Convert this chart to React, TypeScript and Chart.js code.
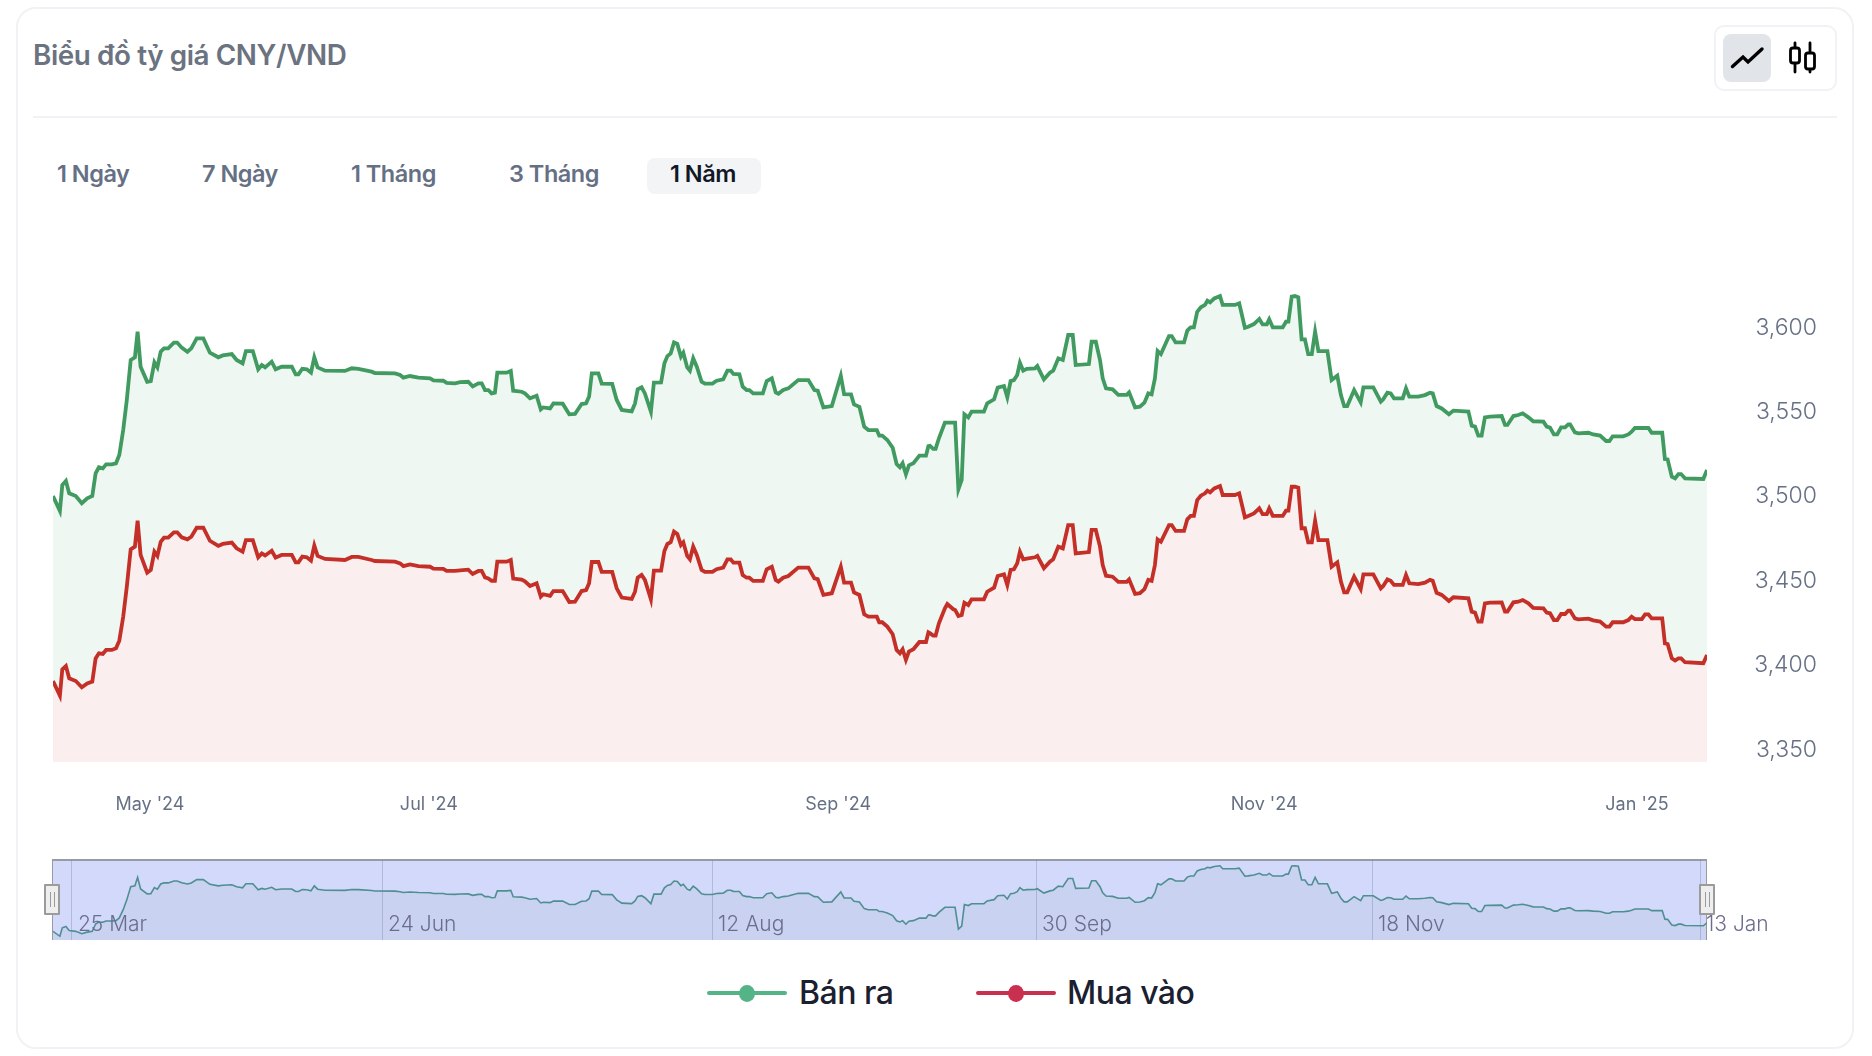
import React, { useEffect, useRef } from "react";
import { Chart, registerables } from "chart.js";

Chart.register(...registerables);

const FONT = "Inter, 'Noto Sans', sans-serif";

const sessions = [
  0, 2.3, 3.1, 4.3, 5.4, 7.6, 9.6, 11.4, 13.1, 14.2,
  15.3, 16.6, 17.7, 19.6, 21, 22.1, 23.4, 24.6, 25.9, 27.3,
  28.2, 29.2, 31.4, 32.6, 33.8, 34.8, 35.9, 37, 38.4, 40.3,
  41.4, 42.9, 44.8, 46.1, 47.9, 50.1, 52.3, 55.1, 56.6, 59.6,
  61.2, 63.2, 64.3, 66.6, 68.4, 69.6, 70.7, 72.9, 74.2, 76.2,
  79.6, 80.9, 81.8, 83.1, 84.6, 86, 87.1, 88.2, 90.7, 97.3,
  99.6, 101.8, 106.2, 107.3, 114, 115.7, 116.8, 119, 121.8, 125.7,
  126.8, 130.1, 131.2, 134, 135.7, 138.4, 139.9, 141.8, 142.9, 144,
  145.1, 146.2, 147.3, 148.1, 151.2, 152.6, 153.4, 156.2, 157.3, 159,
  161.2, 162.6, 163.4, 165.7, 166.8, 169.9, 172.1, 174, 176.2, 177.7,
  178.7, 179.6, 181.8, 182.9, 186.4, 187.9, 189.6, 192.9, 194, 194.9,
  196.2, 197.3, 199.3, 200.3, 202.7, 203.8, 204.8, 205.9, 207, 208.1,
  209.3, 210.1, 211.4, 212.3, 213.4, 214.6, 216.2, 217.3, 219.8, 221.2,
  223.4, 224.8, 225.9, 226.8, 228.8, 229.9, 231.2, 232.1, 233.4, 236.6,
  237.9, 239.6, 240.9, 241.8, 243.4, 245.1, 248.4, 251.8, 253.8, 254.9,
  256.8, 259.6, 262.6, 263.7, 266, 267, 268.8, 270.4, 271.8, 274.6,
  275.4, 276.4, 278.1, 279.9, 281.2, 282.3, 283.2, 284.3, 285.3, 286.8,
  288.8, 291, 291.8, 292.3, 293.4, 294.2, 295.3, 297.3, 298.1, 300.1,
  300.7, 301.8, 302.9, 303.8, 305.1, 306.2, 310.3, 311.4, 313.7, 314.9,
  317, 318.1, 319.2, 320.3, 321.4, 322.3, 323.4, 324.6, 327.3, 328.1,
  330.3, 332.3, 333.4, 335.1, 336.6, 338.4, 339.9, 340.9, 345.3, 346.2,
  347.6, 349, 349.9, 351, 353.2, 355.1, 357.9, 358.7, 360.7, 362.3,
  363.8, 365.1, 366.2, 367.3, 368.2, 369.3, 372, 372.9, 374.2, 377,
  378.1, 379.2, 380.3, 381.4, 382.6, 384, 384.8, 385.7, 387.1, 389,
  389.9, 394, 395.4, 397.3, 398.4, 400.3, 402.1, 403.2, 404.6, 405.4,
  406.6, 409.9, 411, 411.8, 412.9, 414, 415.1, 416.2, 417.3, 418.4,
  419.6, 420.7, 421.8, 424.8, 426.2, 428.1, 429.3, 430.4, 431.4, 433.7,
  435.9, 436.8, 440.1, 442.6, 443.4, 444.8, 445.9, 447, 449.9, 451,
  452.1, 455.1, 457.3, 459, 459.9, 461.2, 462.9, 465.3, 466.8, 471.8,
  472.9, 474, 475.1, 476.2, 477.3, 479, 482.9, 484, 484.8, 486.8,
  488.4, 489.9, 491.8, 493.4, 496.8, 497.9, 499, 500.3, 501.4, 502.7,
  504, 505.1, 505.7, 507.3, 508.4, 511.8, 513.4, 515.7, 517.7, 518.8,
  519.9, 523.4, 525.1, 526.2, 527.3, 529.6, 530.7, 531.8, 532.9, 536.4,
  537.3, 538.2, 539.6, 540.7, 541.8, 542.7, 544, 550.1, 551.33,
];

const sellValues = [
  3499.1, 3490.2, 3505.6, 3508, 3500.7, 3499.1, 3494.8, 3497.7, 3499.1, 3512.5,
  3516.1, 3515.5, 3517.9, 3517.9, 3518.5, 3523.4, 3538.2, 3556, 3579.7, 3581.3,
  3596.5, 3575.7, 3566.8, 3567.2, 3578.3, 3575.3, 3584.6, 3586.6, 3586.6, 3590,
  3590, 3587, 3584.6, 3586.6, 3592.5, 3592.5, 3584, 3581.3, 3582.4, 3583.2,
  3579.7, 3577.7, 3585, 3585, 3574.2, 3576.7, 3575.3, 3578.7, 3574.2, 3575.7,
  3575.7, 3571.2, 3571.2, 3574.5, 3574.2, 3572.2, 3581.3, 3575.3, 3573.4, 3573.2,
  3574.8, 3574.5, 3572.8, 3572, 3571.8, 3570.8, 3569.2, 3570.2, 3569.2, 3568.8,
  3567.6, 3567.4, 3566.1, 3565.9, 3566.6, 3566.8, 3564.1, 3565.9, 3565.9, 3561.9,
  3561.9, 3559.9, 3560.3, 3572.2, 3572.2, 3573.2, 3561.5, 3560.9, 3559.9, 3557,
  3558.5, 3550.4, 3551.6, 3551, 3554, 3553.8, 3547.5, 3547.7, 3553.6, 3554,
  3558, 3571.8, 3571.8, 3565.7, 3565.5, 3556, 3550.1, 3549.3, 3554, 3562.3,
  3563.5, 3559.9, 3549.1, 3566.3, 3566.4, 3577.7, 3582, 3583.6, 3590.1, 3589.2,
  3581.7, 3584, 3575.3, 3573.4, 3580.7, 3575.7, 3566.8, 3565.7, 3565.7, 3567.4,
  3568.2, 3573.4, 3573.4, 3571.4, 3571.2, 3563.9, 3561.9, 3561.9, 3559.9, 3559.9,
  3567.2, 3568.8, 3560.5, 3559.7, 3561.9, 3562.9, 3567.8, 3567.8, 3561.9, 3561.5,
  3551.6, 3552.4, 3570.4, 3559.5, 3559.3, 3553.4, 3552, 3540.2, 3538.2, 3538.2,
  3534.9, 3534.9, 3532.3, 3527.7, 3518.1, 3516.1, 3518.5, 3512, 3517.3, 3518.5,
  3523, 3523, 3528.7, 3528.9, 3527, 3527, 3533.3, 3542.6, 3542.6, 3542.6,
  3542.6, 3503.1, 3508.6, 3547.5, 3545.7, 3549.1, 3549.1, 3554, 3556.4, 3563.3,
  3564.3, 3557.6, 3567.2, 3567.8, 3570.8, 3578.1, 3573.4, 3574.5, 3574.7, 3576.1,
  3568.2, 3572.2, 3573.4, 3580.7, 3579.7, 3594.5, 3594.5, 3576.7, 3577.3, 3590.5,
  3590.5, 3579.7, 3568.8, 3562.9, 3562.3, 3559, 3559, 3560.5, 3551.6, 3552,
  3554.4, 3559.9, 3559.3, 3568.8, 3585, 3583.2, 3593.9, 3593.9, 3590.1, 3590.1,
  3597.1, 3599, 3599, 3608.3, 3610.9, 3612.3, 3614.8, 3613.8, 3616.2, 3617.6,
  3612.3, 3612.3, 3613.3, 3598.8, 3599.4, 3601, 3604, 3600.8, 3600.8, 3603.8,
  3599, 3599, 3602.4, 3602.4, 3617.2, 3617.6, 3616.8, 3591.9, 3591.9, 3583.2,
  3583.2, 3596.5, 3585, 3585, 3567.8, 3570.4, 3558.9, 3552.4, 3552.4, 3561.9,
  3554.6, 3563.5, 3563.5, 3555, 3556.4, 3560.3, 3559.9, 3557, 3557, 3562.9,
  3558, 3558, 3558.9, 3560.3, 3559.9, 3552.4, 3551, 3547.5, 3549.7, 3549.1,
  3540.8, 3540.2, 3534.9, 3534.9, 3545.7, 3546.1, 3546.5, 3541.2, 3541.2, 3546.5,
  3547.1, 3548.1, 3545.7, 3543.4, 3543.2, 3540.2, 3539.6, 3535.6, 3535.6, 3539.8,
  3539.8, 3541.6, 3541.6, 3536.8, 3536.2, 3536.6, 3535.6, 3534.9, 3531.7, 3531.7,
  3534.5, 3534.5, 3535.6, 3537.2, 3539.4, 3539.4, 3539.4, 3539.4, 3536.6, 3536.6,
  3521, 3520.8, 3510.6, 3509.6, 3512.1, 3512.1, 3509.6, 3509.2, 3514.5,
];

const buyValues = [
  3389.5, 3380.8, 3396.4, 3398.4, 3391.1, 3389.5, 3385.8, 3388.1, 3389.1, 3402.9,
  3405.9, 3405.5, 3407.9, 3407.9, 3408.9, 3413.4, 3427.6, 3445.4, 3467.5, 3469.1,
  3484.5, 3464.2, 3453.7, 3455.3, 3466.1, 3463.6, 3472, 3474.4, 3474.4, 3477.6,
  3477.6, 3474.6, 3473.4, 3475, 3480.3, 3480.3, 3472.6, 3469.5, 3470.7, 3471.5,
  3468.1, 3466.1, 3473, 3473, 3462.8, 3465.1, 3463.9, 3466.7, 3462.6, 3464.2,
  3464.2, 3459.8, 3459.8, 3463.2, 3462.8, 3460.8, 3469.7, 3463.6, 3461.8, 3461.2,
  3463, 3463, 3461.2, 3460.6, 3460.2, 3459.2, 3457.6, 3458.6, 3457.6, 3457.2,
  3456.1, 3455.9, 3454.7, 3454.7, 3455.1, 3455.5, 3452.9, 3454.7, 3454.7, 3450.9,
  3450.3, 3448.9, 3448.9, 3460.2, 3460.2, 3461.2, 3450.2, 3449.6, 3448.6, 3445.8,
  3447.4, 3439.5, 3440.9, 3439.9, 3442.8, 3442.8, 3436.3, 3436.5, 3442.8, 3443.4,
  3447.4, 3460, 3460, 3454.1, 3454.1, 3444.4, 3438.9, 3438.1, 3442.4, 3450.7,
  3452.3, 3449.4, 3437.9, 3454.9, 3454.9, 3466.5, 3470.7, 3471.7, 3478, 3476.6,
  3470.1, 3471.7, 3463.6, 3461.6, 3469.1, 3464.2, 3455.3, 3454.1, 3454.1, 3455.7,
  3456.7, 3461.6, 3461.6, 3459.6, 3459.6, 3452.3, 3450.7, 3450.7, 3448.8, 3448.8,
  3455.7, 3457.2, 3449.4, 3448.4, 3450.7, 3451.7, 3456.7, 3456.7, 3450.3, 3449.9,
  3440.5, 3441.5, 3457.2, 3447.8, 3447.8, 3442, 3440.5, 3429, 3427.6, 3427.6,
  3424.3, 3424.3, 3421.7, 3417.2, 3407.9, 3405.9, 3408.3, 3402, 3406.9, 3408.3,
  3412.6, 3412.6, 3418.3, 3417.8, 3416.4, 3416.4, 3423.7, 3432.6, 3435.1, 3432,
  3431.6, 3428, 3428.6, 3435.9, 3434.5, 3437.9, 3437.9, 3442.4, 3444.8, 3451.7,
  3452.7, 3446.4, 3455.3, 3455.7, 3459.2, 3466.1, 3461.6, 3462, 3462.8, 3463.6,
  3456.3, 3460.2, 3461.6, 3469.1, 3468.1, 3481.9, 3481.9, 3465.1, 3465.9, 3479,
  3479, 3469.1, 3458.2, 3451.9, 3451.3, 3448.2, 3448.2, 3449.7, 3441.1, 3441.5,
  3443.9, 3449.4, 3448.8, 3458.2, 3473.4, 3472, 3481.9, 3481.9, 3478.4, 3478.4,
  3485.3, 3487.3, 3487.3, 3496.7, 3499.3, 3500.7, 3502.3, 3501.3, 3503.6, 3505,
  3499.7, 3499.7, 3500.7, 3486.5, 3487.3, 3488.8, 3491.8, 3488.4, 3488.4, 3491.8,
  3487.3, 3487.3, 3490.4, 3490.4, 3504.6, 3504.6, 3504, 3480, 3480, 3471.7,
  3471.7, 3484.5, 3473, 3473, 3457.2, 3459.8, 3448.4, 3442, 3442, 3451.3,
  3444, 3452.7, 3452.7, 3444.4, 3445.8, 3449.7, 3448.9, 3446.4, 3446.4, 3452.3,
  3447.4, 3446.9, 3447.8, 3449.4, 3448.9, 3441.8, 3440.5, 3436.9, 3439.1, 3438.5,
  3430.6, 3430, 3424.7, 3424.7, 3435.5, 3435.9, 3436.1, 3430.6, 3430.6, 3436.1,
  3436.5, 3437.5, 3435.5, 3432.8, 3432.6, 3430, 3429.6, 3425.6, 3425.6, 3429.2,
  3429.2, 3431.2, 3431.2, 3426.6, 3426, 3426.4, 3425.4, 3424.7, 3421.7, 3421.7,
  3424.3, 3424.3, 3425.6, 3427.6, 3426.2, 3426.2, 3429, 3429, 3426.6, 3426.6,
  3411.8, 3411.4, 3402.9, 3401.6, 3402.9, 3402.9, 3400.6, 3400, 3404.9,
];

const lastSession = 551.33;
const yTicks = [3350, 3400, 3450, 3500, 3550, 3600];
const monthTickSessions = [32.3, 125.3, 261.7, 403.7, 528];
const monthTickLabels = ["May '24", "Jul '24", "Sep '24", "Nov '24", "Jan '25"];
const overviewTickSessions = [6.3, 109.7, 219.7, 327.7, 439.7, 549];
const overviewTickLabels = ["25 Mar", "24 Jun", "12 Aug", "30 Sep", "18 Nov", "13 Jan"];
const rangeTabs = ["1 Ngày", "7 Ngày", "1 Tháng", "3 Tháng", "1 Năm"];
const tabLefts = [57, 202, 351, 509, 670];
const sellLabel = "Bán ra";
const buyLabel = "Mua vào";

const toPoints = (ys: number[]) => ys.map((y, i) => ({ x: sessions[i], y }));

const abs = (left: number, top: number, extra: React.CSSProperties = {}): React.CSSProperties => ({
  position: "absolute",
  left,
  top,
  ...extra,
});

function LegendItem({ left, color, label, textLeft }: { left: number; color: string; label: string; textLeft: number }) {
  return (
    <>
      <div style={abs(left, 991, { width: 80, height: 4, background: color, borderRadius: 2 })} />
      <div style={abs(left + 32, 985, { width: 16, height: 17, background: color, borderRadius: "50%" })} />
      <div style={abs(textLeft, 973, { font: `500 32px/40px ${FONT}`, color: "#1a2030", whiteSpace: "nowrap", letterSpacing: -0.5 })}>
        {label}
      </div>
    </>
  );
}

function Handle({ left }: { left: number }) {
  return (
    <div
      style={abs(left, 884, {
        width: 16,
        height: 31,
        boxSizing: "border-box",
        background: "#eeeeee",
        border: "2px solid #9b9b9b",
        borderRadius: 1,
      })}
    >
      <div style={abs(4, 6, { width: 1, height: 15, background: "#9b9b9b" })} />
      <div style={abs(8, 6, { width: 1, height: 15, background: "#9b9b9b" })} />
    </div>
  );
}

export default function App() {
  const mainRef = useRef<HTMLCanvasElement | null>(null);
  const miniRef = useRef<HTMLCanvasElement | null>(null);

  useEffect(() => {
    const main = new Chart(mainRef.current!, {
      type: "line",
      data: {
        datasets: [
          {
            label: sellLabel,
            data: toPoints(sellValues),
            borderColor: "#419b60",
            backgroundColor: "#eff7f2",
            borderWidth: 3.8,
            pointRadius: 0,
            tension: 0,
            fill: "start",
            order: 2,
          },
          {
            label: buyLabel,
            data: toPoints(buyValues),
            borderColor: "#c42f27",
            backgroundColor: "#faeeee",
            borderWidth: 3.8,
            pointRadius: 0,
            tension: 0,
            fill: "start",
            order: 1,
          },
        ],
      },
      options: {
        animation: false,
        responsive: false,
        events: [],
        layout: { padding: { left: 53, right: 55, top: 0, bottom: 0 } },
        plugins: { legend: { display: false }, tooltip: { enabled: false } },
        scales: {
          x: {
            type: "linear",
            min: 0,
            max: lastSession,
            grid: { display: false, drawTicks: true, tickLength: 32 },
            border: { display: false },
            afterBuildTicks: (s: any) => {
              s.ticks = monthTickSessions.map((value) => ({ value }));
            },
            afterFit: (s: any) => {
              s.height = 58;
              s.paddingLeft = 0;
              s.paddingRight = 0;
            },
            ticks: {
              autoSkip: false,
              maxRotation: 0,
              padding: 0,
              color: "#667085",
              font: { family: FONT, size: 18, weight: 400 },
              callback: (v: any) => monthTickLabels[monthTickSessions.indexOf(v)] ?? "",
            },
          },
          y: {
            type: "linear",
            position: "right",
            min: 3341.5,
            max: 3674.5,
            grid: { display: false, drawTicks: false },
            border: { display: false },
            afterBuildTicks: (s: any) => {
              s.ticks = yTicks.map((value) => ({ value }));
            },
            afterFit: (s: any) => {
              s.width = 110;
              s.paddingTop = 0;
              s.paddingBottom = 0;
            },
            ticks: {
              crossAlign: "far",
              padding: 46,
              labelOffset: 2,
              color: "#667085",
              font: { family: FONT, size: 23, weight: 300 },
              callback: (v: any) => Number(v).toLocaleString("en-US"),
            },
          },
        },
      },
    } as any);

    const mini = new Chart(miniRef.current!, {
      type: "line",
      data: {
        datasets: [
          {
            label: sellLabel,
            data: toPoints(sellValues),
            borderColor: "#4f8f92",
            backgroundColor: "rgba(100,140,140,0.08)",
            borderWidth: 1.6,
            pointRadius: 0,
            tension: 0,
            fill: "start",
          },
        ],
      },
      options: {
        animation: false,
        responsive: false,
        events: [],
        layout: { padding: { left: 53, right: 165, top: 10, bottom: 30 } },
        plugins: { legend: { display: false }, tooltip: { enabled: false } },
        scales: {
          x: {
            type: "linear",
            min: 0,
            max: lastSession,
            grid: { display: true, drawTicks: false, color: "rgba(110,125,170,0.35)", lineWidth: 1 },
            border: { display: false },
            afterBuildTicks: (s: any) => {
              s.ticks = overviewTickSessions.map((value) => ({ value }));
            },
            afterFit: (s: any) => {
              s.height = 0;
              s.paddingLeft = 0;
              s.paddingRight = 0;
            },
            ticks: {
              mirror: true,
              z: 1,
              autoSkip: false,
              maxRotation: 0,
              align: "start",
              labelOffset: 6,
              padding: 2.5,
              color: "#6a6e8c",
              font: { family: FONT, size: 21, weight: 300 },
              callback: (v: any) => overviewTickLabels[overviewTickSessions.indexOf(v)] ?? "",
            },
          },
          y: { type: "linear", display: false, min: 3483.5, max: 3628 },
        },
      },
    } as any);

    return () => {
      main.destroy();
      mini.destroy();
    };
  }, []);

  return (
    <div style={{ position: "absolute", left: 0, top: 0, width: 1872, height: 1056, background: "#fff", overflow: "hidden", fontFamily: FONT }}>
      {/* card */}
      <div style={abs(16, 7, { width: 1838, height: 1042, boxSizing: "border-box", border: "2px solid #f1f2f5", borderRadius: 20 })} />
      <div style={abs(33, 37, { font: `600 27.8px/36px ${FONT}`, color: "#6b7280", whiteSpace: "nowrap", letterSpacing: -0.4 })}>
        Biểu đồ tỷ giá CNY/VND
      </div>
      <div style={abs(33, 116, { width: 1804, height: 2, background: "#f1f2f5" })} />

      {/* chart-type buttons */}
      <div style={abs(1714, 25, { width: 123, height: 66, boxSizing: "border-box", border: "2px solid #f1f2f5", borderRadius: 10 })} />
      <div style={abs(1723, 34, { width: 48, height: 48, background: "#e1e4e9", borderRadius: 8 })} />
      <svg width="48" height="48" style={abs(1723, 34)}>
        <polyline points="9.5,32.5 20,23 25,28 39,15" fill="none" stroke="#000" strokeWidth="3.4" strokeLinecap="round" strokeLinejoin="miter" />
      </svg>
      <svg width="48" height="48" style={abs(1778, 34)}>
        <g fill="none" stroke="#000" strokeWidth="2.8" strokeLinecap="round">
          <line x1="17" y1="9" x2="17" y2="38" />
          <rect x="12.5" y="14" width="9" height="15" rx="2.5" fill="#fff" />
          <line x1="32" y1="9" x2="32" y2="38" />
          <rect x="27.5" y="19" width="9" height="16" rx="2.5" fill="#fff" />
        </g>
      </svg>

      {/* range tabs */}
      <div style={abs(647, 158, { width: 114, height: 36, background: "#f3f4f6", borderRadius: 8 })} />
      {rangeTabs.map((t, i) => (
        <div
          key={t}
          style={abs(tabLefts[i], 156, {
            font: `600 23.5px/36px ${FONT}`,
            color: i === rangeTabs.length - 1 ? "#111827" : "#667085",
            whiteSpace: "nowrap",
            letterSpacing: -0.5,
          })}
        >
          {t}
        </div>
      ))}

      <canvas ref={mainRef} width={1872} height={620} style={abs(0, 200, { width: 1872, height: 620 })} />

      {/* overview band */}
      <div
        style={abs(52, 859, {
          width: 1655,
          height: 81,
          boxSizing: "border-box",
          background: "#d2d9fa",
          borderTop: "2px solid #9a9aa2",
          borderLeft: "1px solid #9a9aa2",
          borderRight: "1px solid #9a9aa2",
        })}
      />
      <canvas ref={miniRef} width={1872} height={120} style={abs(0, 850, { width: 1872, height: 120 })} />
      <Handle left={44} />
      <Handle left={1699} />

      <LegendItem left={707} color="#55b388" label={sellLabel} textLeft={799} />
      <LegendItem left={976} color="#c9304f" label={buyLabel} textLeft={1067} />
    </div>
  );
}
